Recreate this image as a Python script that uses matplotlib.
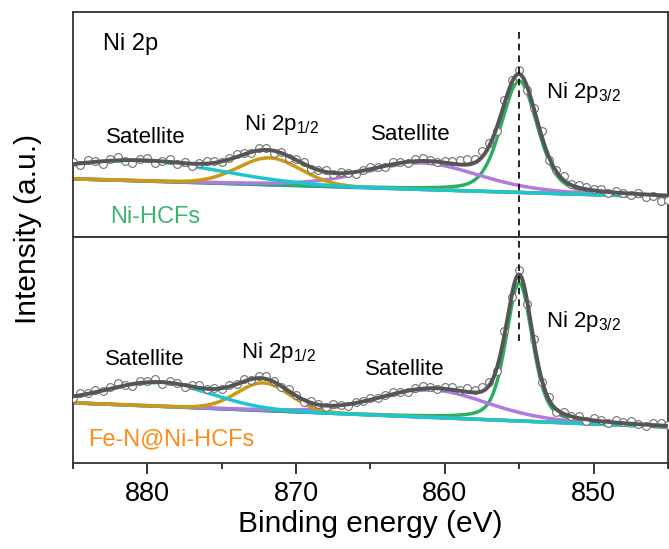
import numpy as np
import matplotlib
matplotlib.use("Agg")
import matplotlib.pyplot as plt
from matplotlib.ticker import MultipleLocator

plt.rcParams["font.family"] = ["Liberation Sans", "DejaVu Sans"]
plt.rcParams["mathtext.fontset"] = "custom"
plt.rcParams["mathtext.rm"] = "Liberation Sans"

# binding energy grid of the measured spectra (eV)
energy = np.arange(885.0, 844.99, -0.5)

# fitted components: satellite (1/2), Ni 2p1/2, satellite (3/2), Ni 2p3/2
hcf_centers = [880.5, 871.8, 861.5, 855.0]
hcf_heights = [8.9, 12.0, 11.8, 49.5]
hcf_fwhm = [13.0, 5.0, 9.0, 2.9]
hcf_eta = [0.0, 0.1, 0.3, 0.35]
hcf_bg = (25.8, 17.8)  # background at 885 eV and 845 eV

fen_centers = [879.2, 872.2, 860.8, 855.0]
fen_heights = [10.5, 12.3, 12.2, 61.3]
fen_fwhm = [8.3, 4.2, 8.7, 2.1]
fen_eta = [0.0, 0.1, 0.25, 0.4]
fen_bg = (26.7, 16.0)

# measured points minus fitted envelope
hcf_resid = [0.9, -0.7, 1.0, 0.2, -1.2, 0.8, 1.3, -0.5, -1.4, 0.5,
             1.2, -0.9, 0.1, 1.1, -0.6, 0.6, -1.1, 0.3, 1.0, 0.8,
             -0.4, 0.7, 1.4, 0.5, -0.3, 1.2, 1.0, -0.8, 0.3, -1.0,
             0.4, 1.0, -0.7, 0.2, 0.9, -0.5, 0.6, 0.1, -0.9, 0.5,
             1.1, 0.3, -0.4, 0.8, 0.4, -0.7, 0.9, 1.2, 0.6, -0.3,
             0.8, 1.4, 1.9, 2.3, 1.5, 2.6, 1.2, -1.8, 1.6, 0.9,
             1.6, -2.0, 0.7, 2.2, -1.2, 1.0, 1.8, 0.4, 1.3, 0.9,
             0.6, 1.1, -0.3, 0.7, 0.2, -0.8, 0.4, -1.3, -0.6, -2.4,
             -1.8]
fen_resid = [-0.6, 0.8, 0.3, 1.1, -0.4, 0.9, 1.7, 0.2, -0.8, 1.0,
             0.5, 1.3, -0.6, 0.9, 0.4, -0.9, 0.7, 1.1, -0.3, 0.6,
             -0.5, 0.8, 0.2, 1.2, -0.4, 0.9, 1.5, 0.3, -0.6, 0.8,
             0.4, -0.8, 0.6, 0.1, -0.5, 0.7, 0.3, -0.9, 0.5, 0.2,
             0.9, -0.2, 0.6, 1.0, 0.3, -0.6, 0.8, 1.3, 0.4, -0.5,
             0.7, 1.2, 0.5, 1.6, 0.9, 2.1, 1.4, -1.5, 2.0, -0.8,
             1.9, -2.4, 1.8, -1.5, 1.2, -1.0, 0.8, 0.3, 1.1, -0.7,
             0.9, 0.4, -0.6, 1.0, 0.5, 1.3, 0.2, -0.7, 0.8, 1.2,
             0.6]

comp_colors = ["#1cc6d0", "#cc9a12", "#b07ae0", "#2fae62"]
bg_color = "#2f6fd6"
env_color = "#555555"


def pseudo_voigt(x, c, h, w, eta):
    u = (x - c) / w
    g = np.exp(-4 * np.log(2) * u ** 2)
    l = 1.0 / (1 + 4 * u ** 2)
    return h * (eta * l + (1 - eta) * g)


def background(x, bg):
    hi, lo = bg
    return lo + (hi - lo) * (x - 845.0) / 40.0


def draw_panel(ax, centers, heights, fwhm, eta, bg, resid, ylim):
    xf = np.linspace(885, 845, 800)
    base = background(xf, bg)
    ax.plot(xf, base, color=bg_color, lw=2.4, zorder=2)
    env = base.copy()
    for i in [3, 2, 1, 0]:
        peak = pseudo_voigt(xf, centers[i], heights[i], fwhm[i], eta[i])
        env += peak
        ax.plot(xf, base + peak, color=comp_colors[i], lw=2.5, zorder=2)
    meas = background(energy, bg) + np.array(resid)
    for c, h, w, e in zip(centers, heights, fwhm, eta):
        meas += pseudo_voigt(energy, c, h, w, e)
    ax.plot(energy, meas, "o", ms=5.6, mfc="white", mec="#707070", mew=0.8, zorder=3)
    ax.plot(xf, env, color=env_color, lw=2.8, zorder=4)
    ax.set_xlim(885, 845)
    ax.set_ylim(*ylim)
    ax.set_yticks([])
    for s in ax.spines.values():
        s.set_linewidth(1.3)
        s.set_color("#333333")


fig = plt.figure(figsize=(6.69, 5.49), dpi=100)
ax1 = fig.add_axes([0.1091, 0.5683, 0.8894, 0.4098])
ax2 = fig.add_axes([0.1091, 0.1566, 0.8894, 0.4117])

draw_panel(ax1, hcf_centers, hcf_heights, hcf_fwhm, hcf_eta, hcf_bg, hcf_resid, (0, 100))
draw_panel(ax2, fen_centers, fen_heights, fen_fwhm, fen_eta, fen_bg, fen_resid, (0, 100.4))

ax1.set_xticks([])
ax2.xaxis.set_major_locator(MultipleLocator(10))
ax2.xaxis.set_minor_locator(MultipleLocator(5))
ax2.tick_params(axis="x", which="major", direction="out", length=8, width=1.1,
                labelsize=19.5, pad=5)
ax2.tick_params(axis="x", which="minor", direction="out", length=4, width=1.1)
ax2.set_xlabel("Binding energy (eV)", fontsize=21.5, labelpad=2)
fig.text(0.042, 0.583, "Intensity (a.u.)", rotation=90, fontsize=21.5,
         ha="center", va="center")

# Ni 2p3/2 position marker
ax1.axvline(855, ymin=0, ymax=0.933, color="black", lw=1.2, ls=(0, (4, 3)), zorder=5)
ax2.axvline(855, ymin=0.54, ymax=1, color="black", lw=1.2, ls=(0, (4, 3)), zorder=5)

fs = 16
ax1.text(883.0, 83.1, "Ni 2p", fontsize=17, ha="left", va="baseline")
ax1.text(880.1, 41.8, "Satellite", fontsize=fs, ha="center", va="baseline")
ax1.text(871.0, 47.6, r"Ni 2p$_\mathregular{1/2}$", fontsize=fs, ha="center", va="baseline")
ax1.text(862.3, 43.1, "Satellite", fontsize=fs, ha="center", va="baseline")
ax1.text(853.2, 61.8, r"Ni 2p$_\mathregular{3/2}$", fontsize=fs, ha="left", va="baseline")
ax1.text(882.5, 6.2, "Ni-HCFs", fontsize=17, color="#3cb46e", ha="left", va="baseline")

ax2.text(880.2, 43.6, "Satellite", fontsize=fs, ha="center", va="baseline")
ax2.text(871.2, 46.7, r"Ni 2p$_\mathregular{1/2}$", fontsize=fs, ha="center", va="baseline")
ax2.text(862.7, 39.1, "Satellite", fontsize=fs, ha="center", va="baseline")
ax2.text(853.2, 60.4, r"Ni 2p$_\mathregular{3/2}$", fontsize=fs, ha="left", va="baseline")
ax2.text(884.0, 8.0, "Fe-N@Ni-HCFs", fontsize=17, color="#ff8c1a", ha="left", va="baseline")

fig.savefig("out.png", dpi=100)
